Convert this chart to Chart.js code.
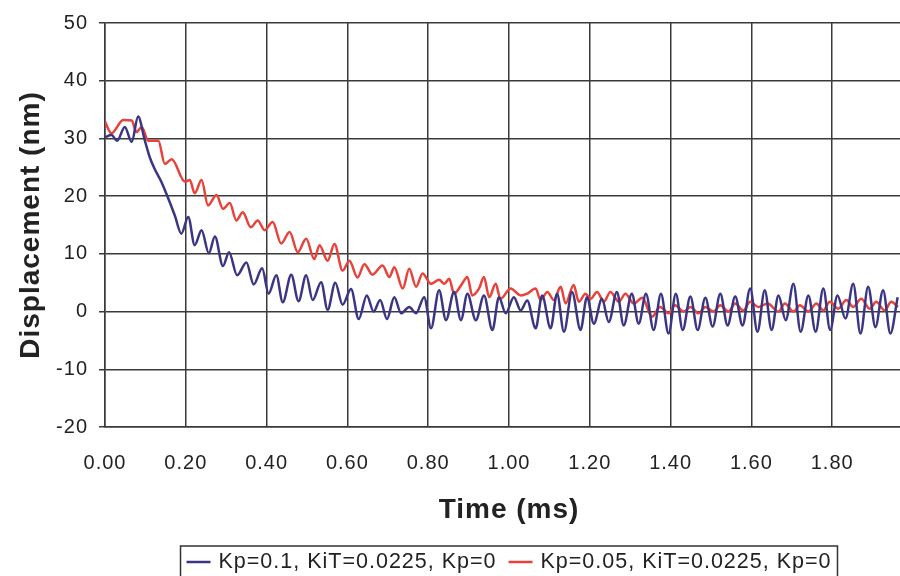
<!DOCTYPE html>
<html>
<head>
<meta charset="utf-8">
<script src="https://cdn.jsdelivr.net/npm/chart.js@4.4.0/dist/chart.umd.min.js"></script>
<style>
  html, body { margin: 0; padding: 0; background: #fff; overflow: hidden; }
  #wrap { width: 900px; height: 576px; overflow: hidden; }
</style>
</head>
<body>
<div id="wrap"><canvas id="chart" width="915" height="576"></canvas></div>
<script>
const seriesNames = ['Kp=0.1, KiT=0.0225, Kp=0', 'Kp=0.05, KiT=0.0225, Kp=0'];
const seriesColors = ['#3b3683', '#e8433a'];

// Kp=0.1 run (time in ms, displacement in nm)
const blueTime = [0.000, 0.016, 0.030, 0.049, 0.066, 0.082, 0.098, 0.111, 0.123, 0.140,
  0.152, 0.173, 0.189, 0.206, 0.222, 0.239, 0.257, 0.272, 0.292, 0.307,
  0.327, 0.350, 0.368, 0.389, 0.405, 0.424, 0.440, 0.461, 0.479, 0.498,
  0.514, 0.535, 0.551, 0.570, 0.588, 0.609, 0.628, 0.648, 0.665, 0.681,
  0.698, 0.716, 0.733, 0.753, 0.770, 0.790, 0.807, 0.827, 0.844, 0.864,
  0.881, 0.897, 0.918, 0.938, 0.959, 0.975, 0.992, 1.012, 1.029, 1.045,
  1.066, 1.082, 1.103, 1.119, 1.136, 1.156, 1.177, 1.193, 1.210, 1.230,
  1.247, 1.267, 1.284, 1.304, 1.321, 1.339, 1.358, 1.376, 1.395, 1.413,
  1.430, 1.449, 1.467, 1.486, 1.504, 1.523, 1.541, 1.560, 1.578, 1.597,
  1.615, 1.633, 1.650, 1.667, 1.685, 1.704, 1.722, 1.741, 1.759, 1.778,
  1.795, 1.813, 1.833, 1.852, 1.870, 1.889, 1.907, 1.926, 1.944, 1.962];
const blueDisp = [30.2, 30.6, 29.6, 32.0, 29.4, 33.8, 29.8, 26.7, 24.7, 22.4,
  20.4, 16.6, 13.5, 16.4, 11.5, 14.1, 10.1, 13.0, 7.9, 10.3,
  6.3, 8.5, 4.7, 7.5, 3.1, 6.3, 1.6, 6.4, 1.8, 6.3,
  2.0, 5.1, 0.3, 5.0, 1.2, 3.9, -1.3, 2.8, 0.0, 2.0,
  -1.3, 2.5, -0.3, 0.8, -0.3, 2.5, -2.9, 3.7, -1.5, 3.4,
  -1.5, 3.1, -1.5, 2.8, -3.2, 2.5, -0.3, 2.5, 0.2, 1.9,
  -2.9, 2.8, -2.9, 3.1, -3.5, 3.4, -3.2, 2.5, -2.1, 2.2,
  -1.8, 3.4, -2.4, 3.1, -2.1, 3.1, -3.2, 3.1, -3.8, 3.1,
  -3.2, 2.6, -3.2, 2.4, -2.6, 3.1, -2.4, 2.6, -2.4, 4.0,
  -3.5, 3.7, -3.2, 2.8, -1.5, 4.8, -3.5, 2.8, -3.5, 4.0,
  -3.2, 2.8, -1.2, 4.8, -3.8, 4.3, -2.7, 3.7, -3.8, 2.5];

// Kp=0.05 run
const redTime = [0.000, 0.016, 0.045, 0.066, 0.078, 0.091, 0.107, 0.132, 0.148, 0.165,
  0.198, 0.210, 0.222, 0.239, 0.255, 0.276, 0.292, 0.309, 0.325, 0.341,
  0.361, 0.378, 0.395, 0.415, 0.436, 0.457, 0.477, 0.498, 0.518, 0.531,
  0.551, 0.568, 0.588, 0.605, 0.625, 0.642, 0.662, 0.687, 0.704, 0.716,
  0.737, 0.753, 0.770, 0.786, 0.807, 0.827, 0.840, 0.852, 0.864, 0.881,
  0.897, 0.909, 0.926, 0.938, 0.951, 0.967, 0.979, 1.004, 1.029, 1.045,
  1.066, 1.078, 1.095, 1.111, 1.128, 1.140, 1.160, 1.173, 1.189, 1.202,
  1.218, 1.235, 1.251, 1.272, 1.288, 1.309, 1.330, 1.354, 1.374, 1.395,
  1.411, 1.432, 1.449, 1.469, 1.486, 1.506, 1.523, 1.543, 1.560, 1.580,
  1.597, 1.617, 1.640, 1.667, 1.683, 1.704, 1.720, 1.741, 1.761, 1.778,
  1.794, 1.815, 1.835, 1.852, 1.872, 1.893, 1.909, 1.930, 1.946, 1.963];
const redDisp = [32.9, 30.9, 33.2, 33.1, 31.1, 32.0, 29.6, 29.6, 25.6, 26.4,
  22.5, 22.8, 20.5, 22.8, 18.4, 20.2, 17.8, 18.8, 15.8, 17.2,
  14.6, 15.8, 14.1, 15.5, 11.8, 13.8, 10.3, 12.6, 9.1, 11.5,
  8.8, 11.7, 7.1, 8.8, 5.9, 8.2, 6.4, 8.0, 6.0, 7.7,
  4.0, 7.4, 4.3, 6.6, 4.8, 5.5, 4.8, 5.7, 3.1, 4.5,
  6.0, 2.8, 4.0, 6.0, 2.5, 4.8, 2.2, 4.0, 2.8, 3.1,
  4.0, 2.0, 3.4, 2.0, 4.3, 1.4, 4.6, 1.7, 3.1, 2.2,
  3.4, 1.7, 3.4, 1.7, 3.1, 1.4, 2.4, -0.9, 0.8, -0.3,
  1.1, 0.0, 0.8, -0.3, 0.8, 0.0, 1.1, 0.0, 1.4, 0.2,
  1.7, 0.8, 1.4, 0.0, 1.4, 0.0, 1.1, 0.0, 1.4, 0.2,
  1.7, 0.5, 2.0, 0.8, 2.2, 0.5, 1.7, 0.2, 1.7, 0.8];

const textFont = '"Liberation Sans", Arial, sans-serif';
const gridColor = '#3a3a3a';

function points(ts, vs) {
  return ts.map((t, i) => ({ x: t, y: vs[i] }));
}

// slightly wider lettering like the scanned original
const spacing = {
  id: 'spacing',
  beforeLayout(chart) { chart.ctx.letterSpacing = '1px'; },
  beforeDraw(chart) { chart.ctx.letterSpacing = '1px'; }
};

// legend in a frame, centred under the plot area
const boxedLegend = {
  id: 'boxedLegend',
  afterDraw(chart) {
    const ctx = chart.ctx;
    const area = chart.chartArea;
    ctx.save();
    ctx.letterSpacing = '1px';
    ctx.font = '21.5px ' + textFont;
    const sw = 24, gap = 8, between = 12, pad = 6;
    const widths = chart.data.datasets.map(d => ctx.measureText(d.label).width);
    let total = pad * 2 + between * (widths.length - 1);
    widths.forEach(w => { total += sw + gap + w; });
    let x = (area.left + area.right) / 2 - total / 2;
    const top = 546, y = 562;
    ctx.strokeStyle = '#333';
    ctx.lineWidth = 1.5;
    ctx.strokeRect(x, top, total, 40);
    x += pad;
    chart.data.datasets.forEach((d, i) => {
      ctx.strokeStyle = d.borderColor;
      ctx.lineWidth = 2.5;
      ctx.beginPath();
      ctx.moveTo(x, y);
      ctx.lineTo(x + sw, y);
      ctx.stroke();
      x += sw + gap;
      ctx.fillStyle = '#222';
      ctx.textBaseline = 'middle';
      ctx.fillText(d.label, x, y);
      x += widths[i] + between;
    });
    ctx.restore();
  }
};

new Chart(document.getElementById('chart'), {
  type: 'line',
  data: {
    datasets: [
      {
        label: seriesNames[0],
        data: points(blueTime, blueDisp),
        borderColor: seriesColors[0],
        borderWidth: 2.5,
        pointRadius: 0,
        cubicInterpolationMode: 'monotone'
      },
      {
        label: seriesNames[1],
        data: points(redTime, redDisp),
        borderColor: seriesColors[1],
        borderWidth: 2.5,
        pointRadius: 0,
        cubicInterpolationMode: 'monotone'
      }
    ]
  },
  options: {
    responsive: false,
    animation: false,
    layout: { padding: { left: 14, top: 22, right: 2, bottom: 46 } },
    plugins: {
      legend: { display: false },
      tooltip: { enabled: false }
    },
    scales: {
      x: {
        type: 'linear',
        min: 0,
        max: 2,
        afterFit(s) {
          s.height = 103;
          s.paddingLeft = 0;
          s.paddingRight = 0;
        },
        grid: { color: gridColor, lineWidth: 1.5, drawTicks: false },
        border: { color: gridColor, width: 1.5 },
        ticks: {
          stepSize: 0.2,
          autoSkip: false,
          maxRotation: 0,
          padding: 24,
          color: '#222',
          font: { family: textFont, size: 20 },
          callback: v => (v > 1.99 ? '' : v.toFixed(2))
        },
        title: {
          display: true,
          text: 'Time (ms)',
          color: '#222',
          font: { family: textFont, size: 28, weight: 'bold' },
          padding: { top: 0, bottom: 3 }
        }
      },
      y: {
        min: -20,
        max: 50,
        afterFit(s) { s.width = 91; },
        grid: { color: gridColor, lineWidth: 1.5, tickLength: 6 },
        border: { color: gridColor, width: 1.5 },
        ticks: {
          stepSize: 10,
          padding: 11,
          color: '#222',
          font: { family: textFont, size: 20 }
        },
        title: {
          display: true,
          text: 'Displacement (nm)',
          color: '#222',
          font: { family: textFont, size: 28, weight: 'bold' },
          padding: 0
        }
      }
    }
  },
  plugins: [spacing, boxedLegend]
});
</script>
</body>
</html>
